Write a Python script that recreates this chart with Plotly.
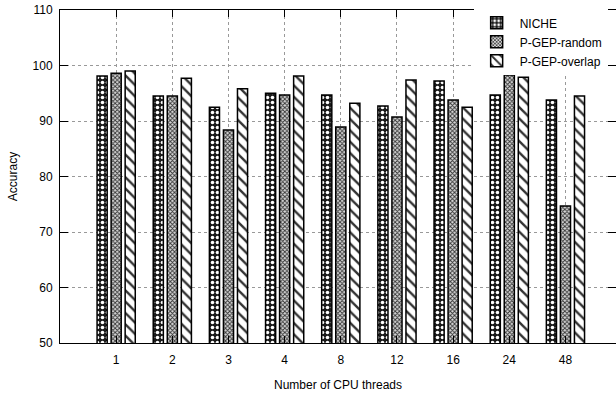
import plotly.graph_objects as go

categories = ["1", "2", "3", "4", "8", "12", "16", "24", "48"]
niche = [98.1, 94.5, 92.5, 95.0, 94.7, 92.7, 97.2, 94.7, 93.8]
pgep_random = [98.6, 94.5, 88.4, 94.7, 88.9, 90.7, 93.8, 98.3, 74.7]
pgep_overlap = [99.0, 97.7, 95.8, 98.1, 93.2, 97.4, 92.5, 97.9, 94.5]
y_ticks = [50, 60, 70, 80, 90, 100, 110]

FONT = "Liberation Sans, Arial, sans-serif"

fig = go.Figure()
fig.add_trace(go.Bar(
    name="NICHE", x=categories, y=niche,
    marker=dict(color="white", line=dict(color="black", width=1.5),
                pattern=dict(shape=".", size=5, solidity=0.4,
                             fgcolor="white", bgcolor="#1a1a1a", fillmode="replace")),
))
fig.add_trace(go.Bar(
    name="P-GEP-random", x=categories, y=pgep_random,
    marker=dict(color="white", line=dict(color="black", width=1.5),
                pattern=dict(shape="x", size=3, solidity=0.5,
                             fgcolor="#333333", bgcolor="#d8d8d8", fillmode="replace")),
))
fig.add_trace(go.Bar(
    name="P-GEP-overlap", x=categories, y=pgep_overlap,
    marker=dict(color="white", line=dict(color="black", width=1.5),
                pattern=dict(shape="\\", size=8, solidity=0.3,
                             fgcolor="#333333", bgcolor="white", fillmode="replace")),
))

fig.update_layout(
    width=616, height=395,
    margin=dict(l=60, r=0, t=10, b=52),
    paper_bgcolor="white", plot_bgcolor="white",
    font=dict(family=FONT, size=12, color="black"),
    barmode="group", bargap=0.25, bargroupgap=0.28,
    showlegend=True,
    legend=dict(x=0.985, y=1.005, xanchor="right", yanchor="top",
                bgcolor="white", borderwidth=0,
                font=dict(family=FONT, size=12), tracegroupgap=0,
                itemwidth=36),
)
fig.update_xaxes(
    type="category", range=[-1, 8.9],
    showline=True, linecolor="black", linewidth=1, mirror="ticks",
    ticks="inside", ticklen=7, tickcolor="black",
    showgrid=True, gridcolor="#999999", griddash="dot", gridwidth=1,
    ticklabelstandoff=6,
    title=dict(text="Number of CPU threads", standoff=14, font=dict(size=12)),
)
fig.update_yaxes(
    range=[50, 110], tickvals=y_ticks,
    showline=True, linecolor="black", linewidth=1, mirror="ticks",
    ticks="inside", ticklen=8, tickcolor="black",
    showgrid=True, gridcolor="#999999", griddash="dot", gridwidth=1,
    zeroline=False, ticklabelstandoff=4,
    title=dict(text="Accuracy", standoff=12, font=dict(size=12)),
)

fig.write_html("out.html")
